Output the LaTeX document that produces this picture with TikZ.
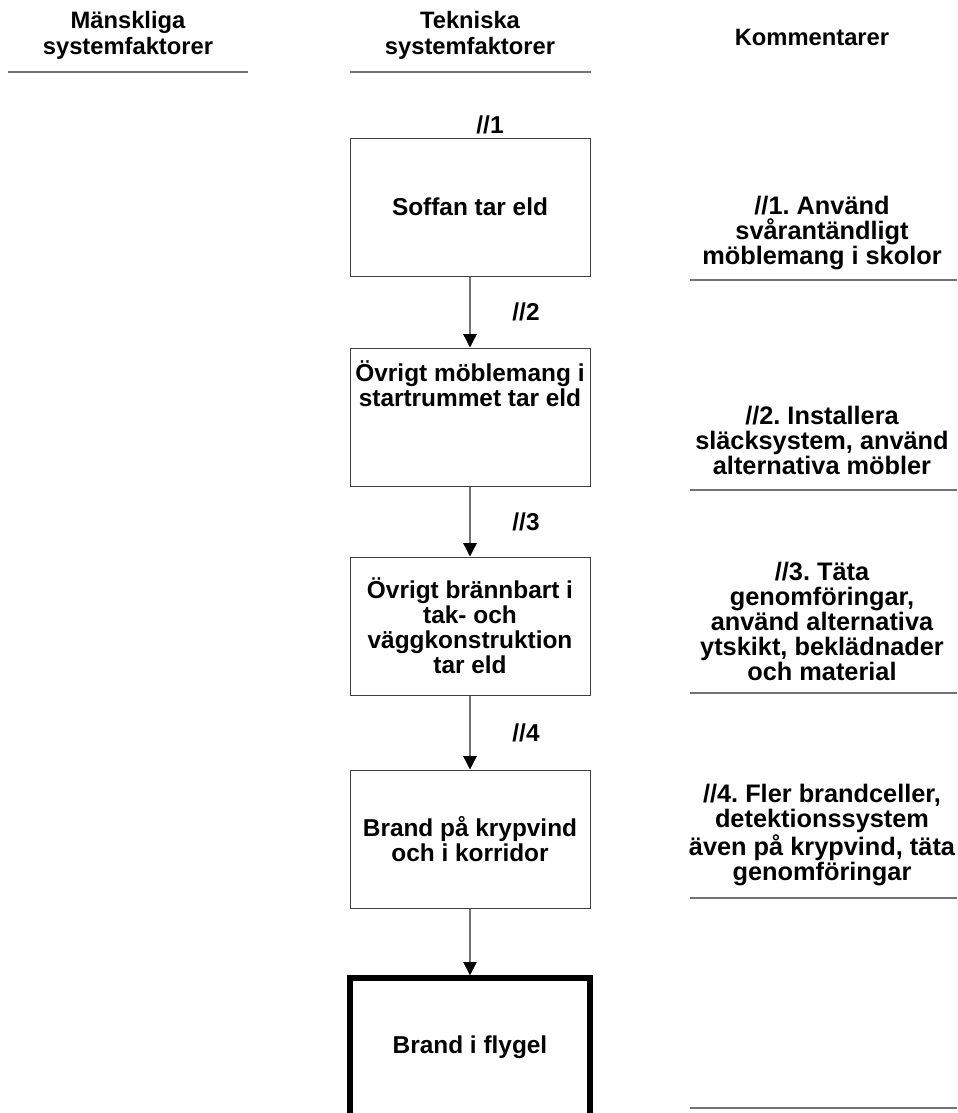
\documentclass[tikz,border=0pt]{standalone}
\usepackage{fontspec}
\setmainfont{Liberation Sans}
\usepackage{tikz}
\usetikzlibrary{arrows.meta,positioning}
\frenchspacing

\begin{document}
\begin{tikzpicture}[x=0.75pt,y=-0.75pt]

  % Parameters
  \def\wev{180pt}
  \def\hev{103.5pt}

  % Styles
  \tikzstyle{event}=[draw=black!75,line width=0.75pt,fill=white,text centered,align=center,minimum width=\wev,minimum height=\hev,inner sep=2pt,font=\bfseries\fontsize{18.3}{18.75}\selectfont]
  \tikzstyle{top}=[event,draw=black,line width=4pt]
  \tikzstyle{head}=[align=center,font=\bfseries\fontsize{17.8}{19.5}\selectfont]
  \tikzstyle{note}=[align=center,font=\bfseries\fontsize{19}{18.75}\selectfont]
  \tikzstyle{tag}=[font=\bfseries\fontsize{18.3}{18.75}\selectfont]
  \tikzstyle{rule}=[draw=black!55,line width=1.3pt]
  \tikzstyle{to}=[-{Triangle[length=10pt,width=10pt,color=black]},draw=black!55,line width=1pt]

  % Frame
  \useasboundingbox (0,0) rectangle (957,1113);

  % Column heads
  \node[head] (hman) at (128,35) {Mänskliga\\systemfaktorer};
  \node[head] (htek) at (470,35) {Tekniska\\systemfaktorer};
  \node[head] (hkom) at (812,37) {Kommentarer};
  \draw[rule] (8,72) -- (248,72);
  \draw[rule] (350,72) -- (591,72);

  % Chain of events
  \node[event] (soffa) at (470,207) {Soffan tar eld};
  \node[event] (mobel) at (470,417) {Övrigt möblemang i\\startrummet tar eld\\[32pt]};
  \node[event] (tak) at (470,626) {Övrigt brännbart i\\tak- och\\väggkonstruktion\\tar eld};
  \node[event] (krypvind) at (470,839) {Brand på krypvind\\och i korridor};
  \node[top] (flygel) at (470,1047) {Brand i flygel};

  \node[tag] (b1) at (490,125) {//1};
  \draw[to] (soffa) -- node[tag,right=28pt] (b2) {//2} (mobel);
  \draw[to] (mobel) -- node[tag,right=28pt] (b3) {//3} (tak);
  \draw[to] (tak) -- node[tag,right=28pt] (b4) {//4} (krypvind);
  \draw[to] (krypvind) -- (flygel.north);

  % Comments
  \node[note] (k1) at (822,233) {//1. Använd\\svårantändligt\\möblemang i skolor};
  \node[note] (k2) at (822,440) {//2. Installera\\släcksystem, använd\\alternativa möbler};
  \node[note] (k3) at (822,621) {//3. Täta\\genomföringar,\\använd alternativa\\ytskikt, beklädnader\\och material};
  \node[note] (k4) at (822,835) {//4. Fler brandceller,\\detektionssystem\\även på krypvind, täta\\genomföringar};
  \foreach \y in {280,490,693,898,1108}
    \draw[rule] (690,\y) -- (957,\y);

\end{tikzpicture}
\end{document}
